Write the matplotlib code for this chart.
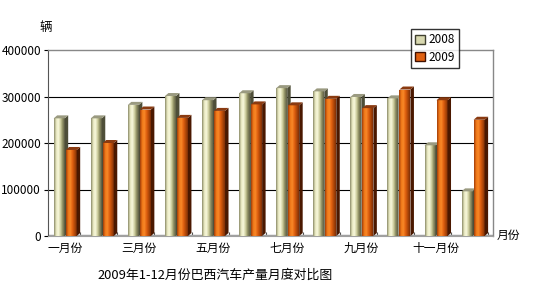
import numpy as np
import matplotlib
matplotlib.use("Agg")
import matplotlib.pyplot as plt
from matplotlib.patches import Polygon, Patch
from matplotlib.colors import LinearSegmentedColormap

plt.rcParams['font.family'] = ['Noto Sans CJK SC', 'DejaVu Sans']

months = ['一月份', '二月份', '三月份', '四月份', '五月份', '六月份',
          '七月份', '八月份', '九月份', '十月份', '十一月份', '十二月份']
series_names = ['2008', '2009']
values_2008 = [253000, 253000, 282000, 301000, 292000, 307000,
               318000, 311000, 299000, 296000, 195000, 96000]
values_2009 = [185000, 200000, 272000, 254000, 269000, 283000,
               281000, 295000, 275000, 315000, 292000, 250000]
yticks = [0, 100000, 200000, 300000, 400000]
title = '2009年1-12月份巴西汽车产量月度对比图'
y_unit = '辆'
x_unit = '月份'

W, H = 537, 301
fig = plt.figure(figsize=(W / 100, H / 100), dpi=100)
L, R, T, B = 48, 493, 50, 236
ax = fig.add_axes([L / W, 1 - B / H, (R - L) / W, (B - T) / H])
ax.set_xlim(0, 12)
ax.set_ylim(0, 400000)

px_x = 12 / (R - L)
px_y = 400000 / (B - T)
dx = 3.5 * px_x
dy = 3.0 * px_y
bw = 11 * px_x

cm08 = LinearSegmentedColormap.from_list('c08', ['#8a8a68', '#e8e8c0', '#f8f8dc', '#d0d0a0', '#8c8c60', '#606048'])
cm09 = LinearSegmentedColormap.from_list('c09', ['#a03c08', '#f07818', '#f88828', '#e06010', '#b04808', '#803008'])
grad = np.linspace(0, 1, 64).reshape(1, -1)

for yv in [100000, 200000, 300000]:
    ax.axhline(yv, color='black', lw=0.8, zorder=1)

x = np.arange(12)
def draw(vals, offset, cm, side, top):
    bars = ax.bar(x + offset, vals, width=bw, align='edge', color='none',
                  edgecolor='none', zorder=3)
    for b in bars:
        x0, h, w = b.get_x(), b.get_height(), b.get_width()
        x1 = x0 + w
        im = ax.imshow(grad, cmap=cm, extent=[x0, x1, 0, h], aspect='auto',
                       zorder=3, interpolation='bilinear')
        im.set_clip_path(b)
        ax.add_patch(Polygon([(x1, 0), (x1 + dx, dy), (x1 + dx, h + dy), (x1, h)],
                             closed=True, facecolor=side, edgecolor='none', zorder=3))
        ax.add_patch(Polygon([(x0, h), (x0 + dx, h + dy), (x1 + dx, h + dy), (x1, h)],
                             closed=True, facecolor=top, edgecolor='none', zorder=3))
    return bars

draw(values_2008, 0.45 - bw, cm08, '#4e4e38', '#9a9a80')
draw(values_2009, 0.45 + 1 * px_x, cm09, '#4a1800', '#8a3a10')

# floor
ax.axhline(0, color='#a0a0a0', lw=2.5, zorder=2)

for s in ['top', 'right']:
    ax.spines[s].set_color('#888888')
    ax.spines[s].set_linewidth(1)
ax.spines['left'].set_color('#555555')
ax.spines['bottom'].set_color('#a0a0a0')

ax.set_yticks(yticks)
ax.set_yticklabels([str(v) for v in yticks], fontsize=8.5)
ax.tick_params(axis='y', length=3, pad=2, color='black')

ax.set_xticks(np.arange(1, 13) - 0.13, minor=False)
ax.set_xticklabels([''] * 12)
ax.tick_params(axis='x', length=3, direction='in', color='#505050', width=0.8)
for i in range(0, 12, 2):
    ax.text(i + 0.45, -0.03, months[i], transform=ax.get_xaxis_transform(),
            ha='center', va='top', fontsize=8.5)

ax.set_xlim(0, 12)
ax.set_ylim(0, 400000)

fig.text(46 / W, 1 - 27 / H, y_unit, ha='center', va='center', fontsize=9)
fig.text(497 / W, 1 - 235 / H, x_unit, ha='left', va='center', fontsize=8.5)
fig.text(215 / W, 1 - 275 / H, title, ha='center', va='center', fontsize=9.3)

handles = [Patch(facecolor='#d8d8b0', edgecolor='#404030'),
           Patch(facecolor='#e06010', edgecolor='#401000')]
leg = fig.legend(handles, series_names, loc='upper left',
                 bbox_to_anchor=(411 / W, 1 - 29 / H), fontsize=8.5,
                 frameon=True, fancybox=False, edgecolor='black',
                 handlelength=0.8, handleheight=0.8, handletextpad=0.3,
                 borderpad=0.35, labelspacing=0.4, borderaxespad=0)
leg.get_frame().set_linewidth(1)

fig.savefig('out.png', dpi=100)
